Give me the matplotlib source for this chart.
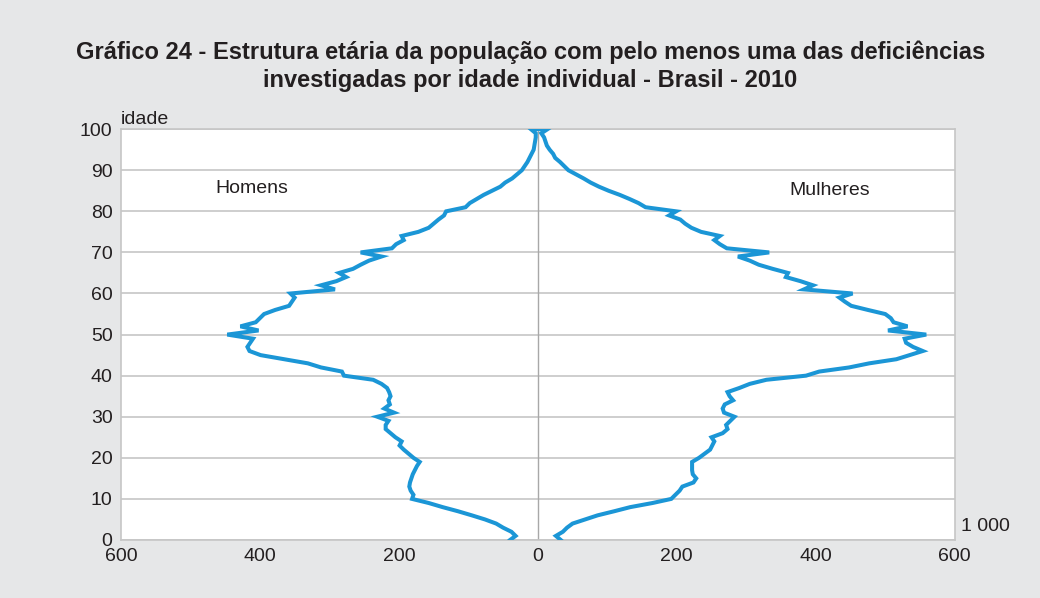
import numpy as np
import matplotlib
matplotlib.use("Agg")
import matplotlib.pyplot as plt

plt.rcParams['font.family'] = ['Liberation Sans', 'DejaVu Sans']

# idade individual 0..100
ages = list(range(0, 101))

# população com deficiência, em 1 000 pessoas
homens = [40, 32, 38, 50, 60, 76, 95, 115, 137, 157,
          181, 179, 183, 185, 184, 182, 180, 177, 174, 170,
          179, 186, 193, 199, 196, 205, 212, 219, 219, 215,
          231, 207, 221, 213, 215, 212, 214, 217, 225, 237,
          279, 282, 312, 331, 365, 399, 415, 418, 414, 410,
          447, 402, 428, 406, 400, 394, 378, 358, 354, 350,
          356, 292, 312, 290, 276, 286, 266, 255, 243, 225,
          255, 210, 204, 193, 196, 172, 157, 150, 143, 135,
          132, 104, 98, 88, 78, 66, 54, 47, 37, 30,
          23, 19, 15, 12, 9, 6, 5, 4, 3, 3,
          10]

mulheres = [33, 26, 36, 42, 50, 68, 86, 110, 133, 165,
            192, 198, 204, 208, 224, 228, 223, 222, 222, 222,
            232, 240, 248, 251, 254, 250, 266, 273, 271, 277,
            283, 268, 266, 269, 281, 276, 273, 290, 305, 329,
            386, 405, 448, 477, 516, 535, 554, 540, 530, 528,
            559, 504, 532, 512, 508, 500, 475, 451, 442, 434,
            453, 383, 396, 378, 357, 360, 338, 318, 305, 288,
            333, 272, 262, 254, 262, 235, 221, 212, 205, 189,
            199, 155, 145, 132, 118, 102, 88, 76, 66, 55,
            44, 38, 32, 25, 22, 17, 13, 11, 9, 5,
            14]

xticks = [-600, -400, -200, 0, 200, 400, 600]
yticks = list(range(0, 101, 10))

bg = '#e6e7e8'
blue = '#1b96d6'
grid = '#c6c6c6'
txt = '#231f20'
fs = 14

fig = plt.figure(figsize=(10.4, 5.98), dpi=100, facecolor=bg)
ax = fig.add_axes([0.1163, 0.097, 0.8017, 0.687])
ax.set_facecolor('white')

# one continuous line: men going up, women coming down
x_line = [-v for v in homens] + mulheres[::-1]
y_line = ages + ages[::-1]
ax.plot(x_line, y_line, color=blue, lw=2.9, solid_joinstyle='miter', zorder=3)

ax.set_xlim(-600, 600)
ax.set_ylim(0, 100)
ax.set_xticks(xticks)
ax.set_xticklabels([str(abs(t)) for t in xticks])
ax.set_yticks(yticks)
ax.tick_params(length=0, labelsize=fs, colors=txt, pad=6)
ax.yaxis.grid(True, color=grid, lw=1.2)
ax.axvline(0, color='#a8a8a8', lw=1.0, zorder=2)
ax.set_axisbelow(True)
for s in ax.spines.values():
    s.set_color(grid)
    s.set_linewidth(1.2)

ax.text(-411, 85.5, 'Homens', fontsize=fs, ha='center', va='center', color=txt)
ax.text(420, 85, 'Mulheres', fontsize=fs, ha='center', va='center', color=txt)
ax.text(0.0, 1.003, 'idade', transform=ax.transAxes, fontsize=fs, ha='left', va='bottom', color=txt)
ax.text(1.008, 0.012, '1 000', transform=ax.transAxes, fontsize=fs, ha='left', va='bottom', color=txt)

fig.text(0.51, 0.932, 'Gráfico 24 - Estrutura etária da população com pelo menos uma das deficiências\n'
         'investigadas por idade individual - Brasil - 2010',
         ha='center', va='top', fontsize=17, fontweight='bold', color=txt, linespacing=1.28)

fig.savefig('out.png', dpi=100, facecolor=bg)
